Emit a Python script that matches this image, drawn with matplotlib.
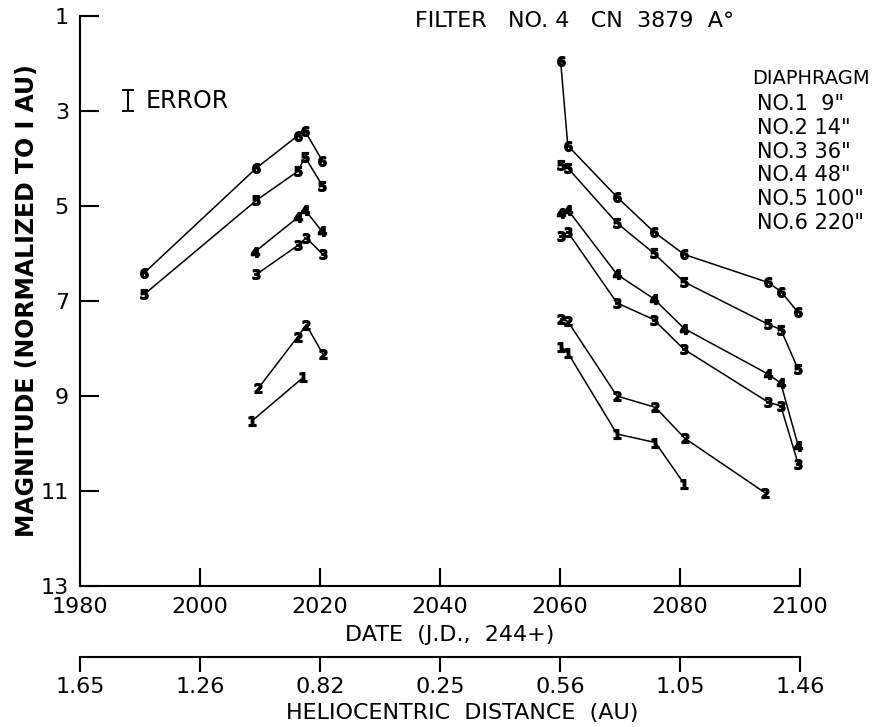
import matplotlib
matplotlib.use("Agg")
import matplotlib.pyplot as plt

# dates (J.D. - 2440000) and magnitudes for each diaphragm, before / after perihelion
d1_left_dates = [2008.7, 2017.2]
d1_left_mag = [9.52, 8.61]
d1_right_dates = [2060.1, 2061.3, 2069.5, 2075.9, 2080.7]
d1_right_mag = [7.96, 8.09, 9.80, 9.98, 10.85]

d2_left_dates = [2009.7, 2016.3, 2017.7, 2020.5]
d2_left_mag = [8.84, 7.75, 7.50, 8.12]
d2_right_dates = [2060.1, 2061.3, 2069.5, 2075.9, 2080.8, 2094.2]
d2_right_mag = [7.37, 7.43, 9.00, 9.24, 9.89, 11.04]

d3_left_dates = [2009.4, 2016.3, 2017.7, 2020.5]
d3_left_mag = [6.44, 5.83, 5.67, 6.02]
d3_right_dates = [2060.1, 2061.3, 2069.5, 2075.6, 2080.7, 2094.7, 2096.8, 2099.7]
d3_right_mag = [5.64, 5.55, 7.04, 7.39, 8.02, 9.13, 9.21, 10.43]

d4_left_dates = [2009.2, 2016.3, 2017.5, 2020.3]
d4_left_mag = [5.96, 5.24, 5.08, 5.53]
d4_right_dates = [2060.1, 2061.3, 2069.5, 2075.6, 2080.7, 2094.7, 2096.8, 2099.7]
d4_right_mag = [5.15, 5.08, 6.44, 6.95, 7.58, 8.54, 8.73, 10.05]

d5_left_dates = [1990.7, 2009.4, 2016.3, 2017.5, 2020.4]
d5_left_mag = [6.86, 4.88, 4.27, 3.97, 4.57]
d5_right_dates = [2060.1, 2061.3, 2069.5, 2075.6, 2080.7, 2094.7, 2096.8, 2099.7]
d5_right_mag = [4.13, 4.20, 5.36, 5.99, 6.60, 7.49, 7.60, 8.44]

d6_left_dates = [1990.6, 2009.4, 2016.3, 2017.5, 2020.4]
d6_left_mag = [6.42, 4.20, 3.52, 3.42, 4.05]
d6_right_dates = [2060.1, 2061.3, 2069.5, 2075.6, 2080.7, 2094.7, 2096.8, 2099.7]
d6_right_mag = [1.94, 3.73, 4.81, 5.54, 6.02, 6.61, 6.80, 7.24]

date_ticks = [1980, 2000, 2020, 2040, 2060, 2080, 2100]
helio_labels = ["1.65", "1.26", "0.82", "0.25", "0.56", "1.05", "1.46"]
mag_ticks = [1, 3, 5, 7, 9, 11, 13]
diaphragm_labels = ['NO.1  9"', 'NO.2 14"', 'NO.3 36"', 'NO.4 48"', 'NO.5 100"', 'NO.6 220"']

plt.rcParams['font.family'] = ['DejaVu Sans']

W, H = 883, 727
fig = plt.figure(figsize=(W / 100, H / 100), dpi=100)
ax = fig.add_axes([80 / W, 1 - 586 / H, 720 / W, 570 / H])


def plot_series(dates, mags, num):
    ax.plot(dates, mags, color='black', lw=1.1, marker=f'$\\mathbf{{{num}}}$',
            markersize=7, markerfacecolor='black', markeredgecolor='black',
            clip_on=False)


series = [
    (d1_left_dates, d1_left_mag, d1_right_dates, d1_right_mag),
    (d2_left_dates, d2_left_mag, d2_right_dates, d2_right_mag),
    (d3_left_dates, d3_left_mag, d3_right_dates, d3_right_mag),
    (d4_left_dates, d4_left_mag, d4_right_dates, d4_right_mag),
    (d5_left_dates, d5_left_mag, d5_right_dates, d5_right_mag),
    (d6_left_dates, d6_left_mag, d6_right_dates, d6_right_mag),
]
for i, (ld, lm, rd, rm) in enumerate(series):
    plot_series(ld, lm, i + 1)
    plot_series(rd, rm, i + 1)

ax.set_xlim(1980, 2100)
ax.set_ylim(13, 1)
ax.set_xticks(date_ticks)
ax.set_yticks(mag_ticks)
ax.spines['top'].set_visible(False)
ax.spines['right'].set_visible(False)
ax.spines['left'].set_linewidth(1.5)
ax.spines['bottom'].set_linewidth(1.5)
ax.tick_params(axis='y', direction='in', length=14, width=1.5, labelsize=16, pad=8)
ax.tick_params(axis='x', direction='in', length=13, width=1.5, labelsize=16, pad=8)

# heliocentric distance scale below the date axis
helio = ax.secondary_xaxis(-0.125)
helio.set_xticks(date_ticks)
helio.set_xticklabels(helio_labels)
helio.spines['bottom'].set_linewidth(1.5)
helio.tick_params(axis='x', direction='out', length=11, width=1.5, labelsize=16, pad=3)

# axis titles
fig.text(27 / W, 1 - 301 / H, 'MAGNITUDE (NORMALIZED TO I AU)', fontsize=17,
         fontweight='bold', rotation=90, ha='center', va='center')
fig.text(450 / W, 1 - 635 / H, 'DATE  (J.D.,  244+)', fontsize=16, ha='center', va='center')
fig.text(462 / W, 1 - 713 / H, 'HELIOCENTRIC  DISTANCE  (AU)', fontsize=16,
         ha='center', va='center')

# error bar key
ax.errorbar([1988], [2.78], yerr=[0.22], color='black', lw=1.4, capsize=4, capthick=1.4)
ax.text(1991, 2.78, 'ERROR', fontsize=17, va='center', ha='left')

# title and diaphragm key
fig.text(415 / W, 1 - 21 / H, 'FILTER   NO. 4   CN  3879  A°', fontsize=16, va='center', ha='left')
fig.text(752 / W, 1 - 78 / H, 'DIAPHRAGM', fontsize=14, va='center', ha='left')
for k, lab in enumerate(diaphragm_labels):
    fig.text(757 / W, 1 - (104 + 23.8 * k) / H, lab, fontsize=15, va='center', ha='left')

fig.savefig('out.png', dpi=100)
